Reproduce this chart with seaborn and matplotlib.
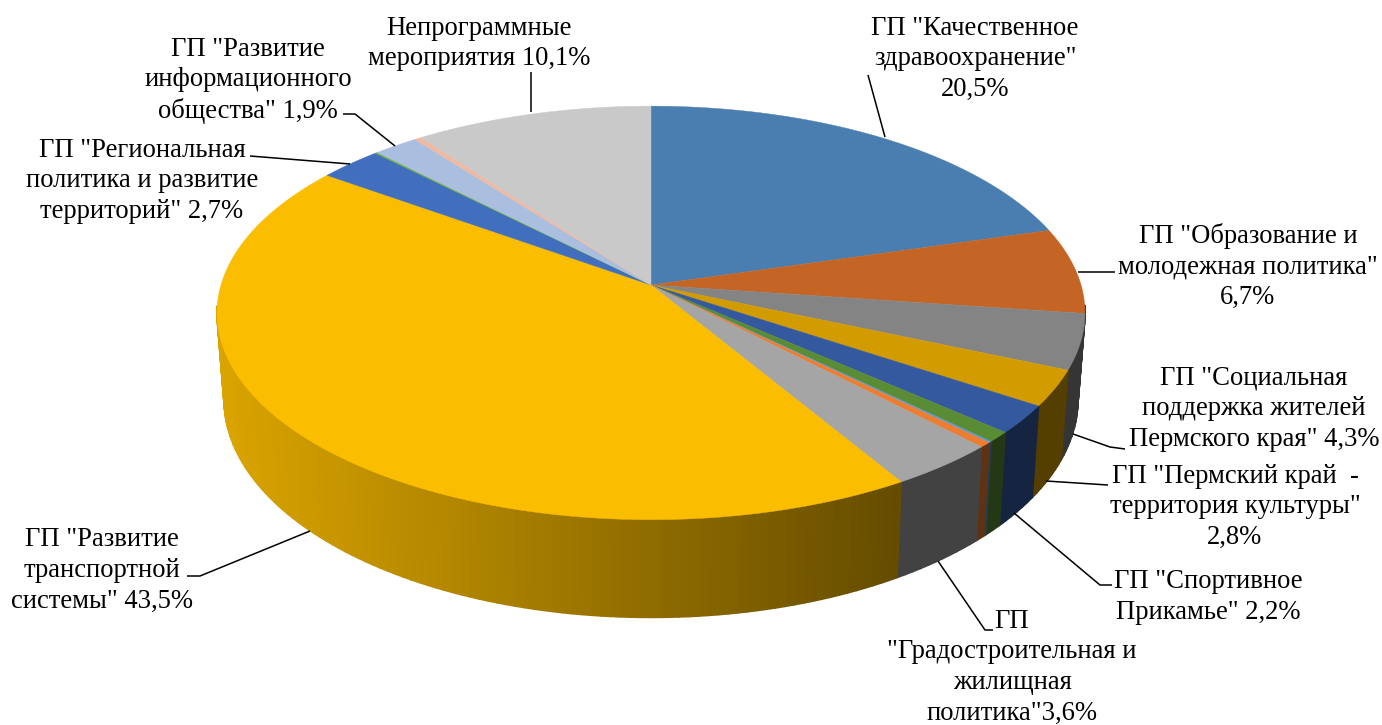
import numpy as np
import pandas as pd
import seaborn as sns
import matplotlib.pyplot as plt
from matplotlib.collections import PolyCollection

# Shares of budget by programme, clockwise from 12 o'clock
slice_values = [20.5, 6.7, 4.3, 2.8, 2.2, 0.8, 0.1, 0.4, 3.6, 43.5, 2.7, 0.1, 1.9, 0.3, 10.1]
slice_colors = ['#4A7EB0', '#C46526', '#848484', '#D29C00', '#35599F', '#5A8B35', '#5B9BD5', '#ED7D31',
                '#A5A5A5', '#FBBD00', '#416EBD', '#70AD47', '#AABFDF', '#F0B9A3', '#C9C9C9']

label_lines = [
    ['ГП "Качественное', 'здравоохранение"', '20,5%'],
    ['ГП "Образование и', 'молодежная политика"', '6,7%'],
    ['ГП "Социальная', 'поддержка жителей', 'Пермского края" 4,3%'],
    ['ГП "Пермский край  -', 'территория культуры"', '2,8%'],
    ['ГП "Спортивное', 'Прикамье" 2,2%'],
    ['ГП', '"Градостроительная и', 'жилищная', 'политика"3,6%'],
    ['ГП "Развитие', 'транспортной', 'системы" 43,5%'],
    ['ГП "Региональная', 'политика и развитие', 'территорий" 2,7%'],
    ['ГП "Развитие', 'информационного', 'общества" 1,9%'],
    ['Непрограммные', 'мероприятия 10,1%'],
]
label_x = [975, 1248, 1254, 1235, 1208, 1012, 102, 142, 248, 479]
label_y = [28, 236, 378, 476, 582, 621, 540, 150, 49, 28]
leader_x = [[868, 885], [1078, 1115], [1073, 1110, 1125], [1046, 1108], [1014, 1100, 1112],
            [938, 985, 993], [310, 200, 187], [350, 250], [395, 355, 343], [531, 531]]
leader_y = [[75, 137], [272, 272], [434, 447, 449], [481, 485], [513, 585, 585],
            [561, 630, 630], [531, 576, 576], [164, 156], [146, 114, 114], [112, 72]]

sns.set_theme(style="white")
plt.rcParams['font.family'] = ['Liberation Serif', 'DejaVu Serif']
palette = sns.color_palette(slice_colors)

df = pd.DataFrame({'value': slice_values})
df['end'] = df['value'].cumsum() / df['value'].sum() * 2 * np.pi
df['start'] = df['end'].shift(1, fill_value=0.0)

# Perspective of the disc: the near edge is drawn larger than the far one
cx = 651
top_cy, top_a, top_b = 285, 430, 203
low_cy, low_a, low_b = 370, 423, 214
k = 0.135


def project(t, cy, a, b):
    u, v = np.sin(t), np.cos(t)
    w = 1 + k * v
    return cx + a * u / w, cy - b * v / w


fig = plt.figure(figsize=(13.82, 7.25), dpi=100)
ax = fig.add_axes([0, 0, 1, 1])
ax.set_xlim(0, 1382)
ax.set_ylim(725, 0)
ax.axis('off')

# Side wall, shaded from left to right
quads, quad_colors = [], []
for color, start, end in zip(palette, df['start'], df['end']):
    n = max(1, int((end - start) / 0.02))
    ts = np.linspace(start, end, n + 1)
    for t0, t1 in zip(ts[:-1], ts[1:]):
        if np.cos((t0 + t1) / 2) > -0.1:
            continue
        x0, y0 = project(t0, top_cy, top_a, top_b)
        x1, y1 = project(t1, top_cy, top_a, top_b)
        x2, y2 = project(t1, low_cy, low_a, low_b)
        x3, y3 = project(t0, low_cy, low_a, low_b)
        shade = np.interp((x0 + x1) / 2, [217, 900], [0.87, 0.40])
        quads.append([(x0, y0), (x1, y1), (x2, y2), (x3, y3)])
        quad_colors.append(tuple(np.array(color) * shade))
ax.add_collection(PolyCollection(quads, facecolors=quad_colors, edgecolors=quad_colors, linewidths=1.2, zorder=1))

# Top face
for color, start, end in zip(palette, df['start'], df['end']):
    ts = np.linspace(start, end, max(3, int((end - start) / 0.005)))
    xs, ys = project(ts, top_cy, top_a, top_b)
    ax.fill(np.r_[cx, xs], np.r_[top_cy, ys], color=color, lw=0.3, zorder=2)

# Leader lines and labels
for xs, ys in zip(leader_x, leader_y):
    ax.plot(xs, ys, color='black', lw=1.1, zorder=3, solid_capstyle='butt')

for lines, x, y in zip(label_lines, label_x, label_y):
    for i, line in enumerate(lines):
        ax.text(x, y + i * 30.8, line, ha='center', va='center', fontsize=19.2, color='black', zorder=4)

sns.despine(left=True, bottom=True)
fig.savefig('out.png', dpi=100)
